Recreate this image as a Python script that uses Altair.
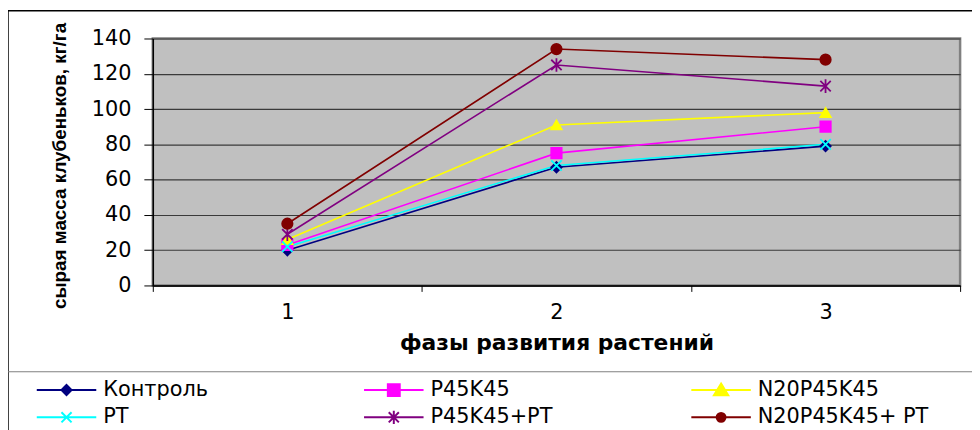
import altair as alt
import pandas as pd

phases = ["1", "2", "3"]
series = ["Контроль", "P45K45", "N20P45K45", "PT", "P45K45+PT", "N20P45K45+ PT"]
kontrol = [20, 67, 79]
p45k45 = [23, 75, 90]
n20p45k45 = [26, 91, 98]
pt = [22, 68, 80]
p45k45_pt = [29, 125, 113]
n20p45k45_pt = [35, 134, 128]
colors = ["#000080", "#FF00FF", "#FFFF00", "#00FFFF", "#800080", "#800000"]
y_ticks = [0, 20, 40, 60, 80, 100, 120, 140]

# plot markers
marker_paths = [
    "diamond",
    "square",
    "triangle-up",
    "M-1,-1L1,1M-1,1L1,-1",
    "M-1,-1L1,1M-1,1L1,-1M0,-1.3V1.3",
    "circle",
]
# legend symbols: line + marker (unit = 15px, line 60px wide)
legend_paths = [
    "M-2,0H2M0,-0.34L0.34,0L0,0.34L-0.34,0Z",
    "M-2,0H2M-0.4,-0.4H0.4V0.4H-0.4Z",
    "M-2,0H2M0,-0.44L0.48,0.34H-0.48Z",
    "M-2,0H2M-0.34,-0.34L0.34,0.34M-0.34,0.34L0.34,-0.34",
    "M-2,0H2M-0.34,-0.34L0.34,0.34M-0.34,0.34L0.34,-0.34M0,-0.44V0.44",
    "M-2,0H2M-0.3,0A0.3,0.3 0 1,0 0.3,0A0.3,0.3 0 1,0 -0.3,0Z",
]

all_vals = [kontrol, p45k45, n20p45k45, pt, p45k45_pt, n20p45k45_pt]
rows = []
for s, vals in zip(series, all_vals):
    for ph, v in zip(phases, vals):
        rows.append({"phase": ph, "value": v, "series": s, "Легенда": s})
df = pd.DataFrame(rows)

FONT = "DejaVu Sans"

x_enc = alt.X(
    "phase:O",
    scale=alt.Scale(type="band", paddingInner=0, paddingOuter=0, domain=phases),
    bandPosition=0.5,
    axis=alt.Axis(
        title="фазы развития растений",
        labelAngle=0,
        labelFont=FONT,
        labelFontSize=21,
        labelColor="black",
        labelPadding=10,
        tickBand="extent",
        tickColor="black",
        tickSize=6,
        domainColor="black",
        domainWidth=1.5,
        titleFont=FONT,
        titleFontSize=22,
        titleFontWeight="bold",
        titleColor="black",
        titleX=407,
        titleY=58,
        titleBaseline="middle",
        titleAlign="center",
    ),
)
y_enc = alt.Y(
    "value:Q",
    scale=alt.Scale(domain=[0, 140], nice=False),
    axis=alt.Axis(
        title="сырая масса клубеньков, кг/га",
        values=y_ticks,
        grid=True,
        gridColor="#3a3a3a",
        gridWidth=1.2,
        labelFont=FONT,
        labelFontSize=21,
        labelColor="black",
        labelPadding=13,
        tickColor="black",
        tickSize=9,
        domainColor="black",
        domainWidth=1.5,
        titleFont="Liberation Sans",
        titleFontSize=19,
        titleFontWeight="bold",
        titleColor="black",
        titleAngle=270,
        titleX=-94,
        titleY=128,
        titleAlign="center",
        titleBaseline="middle",
    ),
)

color_scale = alt.Scale(domain=series, range=colors)

lines = alt.Chart(df).mark_line(strokeWidth=1.6).encode(
    x=x_enc,
    y=y_enc,
    color=alt.Color("series:N", scale=color_scale, legend=None, sort=series),
)

points = alt.Chart(df).mark_point(filled=True, size=110, strokeWidth=1.8, opacity=1).encode(
    x=x_enc,
    y=y_enc,
    color=alt.Color("series:N", scale=color_scale, legend=None),
    stroke=alt.Stroke("series:N", scale=color_scale, legend=None),
    shape=alt.Shape("series:N", scale=alt.Scale(domain=series, range=marker_paths), legend=None),
)


def make_legend():
    return alt.Legend(
        orient="none", legendX=-103, legendY=338, columns=3, direction="horizontal",
        title=None, symbolSize=900, symbolStrokeWidth=2, symbolOpacity=1,
        labelFont=FONT, labelFontSize=21, labelColor="black", labelOffset=21,
        columnPadding=86, rowPadding=1, gridAlign="all", padding=0,
        labelLimit=400,
    )


legend_layer = alt.Chart(df).mark_point(filled=True, opacity=0).encode(
    x=x_enc,
    y=y_enc,
    color=alt.Color("Легенда:N", scale=alt.Scale(domain=series, range=colors), legend=make_legend()),
    stroke=alt.Stroke("Легенда:N", scale=alt.Scale(domain=series, range=colors), legend=make_legend()),
    shape=alt.Shape("Легенда:N", scale=alt.Scale(domain=series, range=legend_paths), legend=make_legend()),
)

one = alt.Data(values=[{"k": 1}])
frame_left = alt.Chart(one).mark_rule(color="black", strokeWidth=1.5).encode(
    x=alt.value(-146), y=alt.value(-28), y2=alt.value(420)
)
frame_top = alt.Chart(one).mark_rule(color="black", strokeWidth=1.5).encode(
    x=alt.value(-146), x2=alt.value(830), y=alt.value(-28)
)
frame_sep = alt.Chart(one).mark_rule(color="#808080", strokeWidth=1.2).encode(
    x=alt.value(-146), x2=alt.value(830), y=alt.value(336)
)

chart = alt.layer(frame_left, frame_top, frame_sep, lines, points, legend_layer).resolve_scale(
    color="independent", stroke="independent", shape="independent"
).properties(
    width=814,
    height=249,
    autosize=alt.AutoSizeParams(type="none"),
    padding={"left": 146, "top": 29, "right": 12, "bottom": 144},
    background="white",
).configure_view(
    fill="#C0C0C0", stroke="#808080", strokeWidth=2.5
)

chart.save("out.html", embed_options={"renderer": "svg", "actions": False})
